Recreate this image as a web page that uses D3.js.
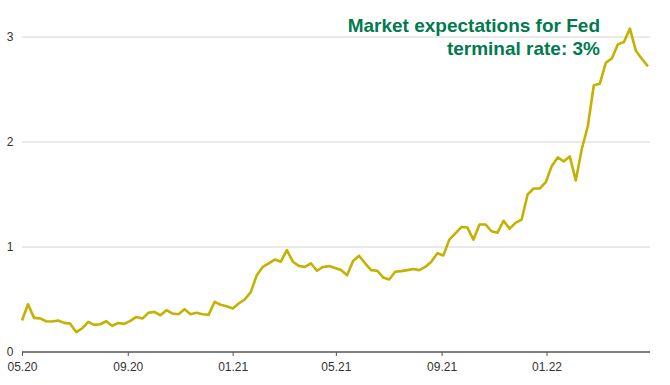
<!DOCTYPE html>
<html>
<head>
<meta charset="utf-8">
<script src="https://cdn.jsdelivr.net/npm/d3@7"></script>
<style>
  html, body { margin: 0; padding: 0; background: #fff; }
  svg { display: block; font-family: "Liberation Sans", Arial, sans-serif; }
</style>
</head>
<body>
<svg id="chart" width="670" height="385"></svg>
<script>
// ---- data ----
const startDate = "2020-05-01";          // first weekly observation
const stepDays = 7;                      // weekly observations
const values = [
  0.30, 0.455, 0.325, 0.32, 0.293, 0.29, 0.30, 0.277, 0.27, 0.19,
  0.226, 0.287, 0.258, 0.264, 0.293, 0.248, 0.277, 0.268, 0.296, 0.334,
  0.318, 0.373, 0.382, 0.35, 0.398, 0.366, 0.36, 0.408, 0.36, 0.373,
  0.36, 0.354, 0.478, 0.45, 0.436, 0.414, 0.462, 0.50, 0.57, 0.73,
  0.81, 0.845, 0.88, 0.86, 0.97, 0.86, 0.82, 0.81, 0.845, 0.774,
  0.81, 0.818, 0.80, 0.78, 0.73, 0.866, 0.917, 0.845, 0.78, 0.774,
  0.71, 0.69, 0.764, 0.77, 0.78, 0.79, 0.78, 0.81, 0.86, 0.94,
  0.92, 1.07, 1.13, 1.19, 1.185, 1.07, 1.215, 1.215, 1.15, 1.137,
  1.25, 1.175, 1.23, 1.26, 1.50, 1.557, 1.557, 1.615, 1.77, 1.853,
  1.815, 1.863, 1.634, 1.933, 2.15, 2.54, 2.555, 2.755, 2.796, 2.93,
  2.952, 3.08, 2.866, 2.79, 2.72
];
const xTickDates = ["2020-05-01", "2020-09-01", "2021-01-01", "2021-05-01", "2021-09-01", "2022-01-01"];
const xTickLabels = ["05.20", "09.20", "01.21", "05.21", "09.21", "01.22"];
const yTicks = [0, 1, 2, 3];
const titleLines = ["Market expectations for Fed", "terminal rate: 3%"];

// ---- build ----
const parse = d3.utcParse("%Y-%m-%d");
const t0 = parse(startDate);
const data = values.map((v, i) => ({ date: d3.utcDay.offset(t0, i * stepDays), value: v }));

const svg = d3.select("#chart");
const mLeft = 22, mRight = 648, mTop = 37, mBottom = 352;

const x = d3.scaleUtc()
  .domain([t0, data[data.length - 1].date])
  .range([mLeft, mRight]);
const y = d3.scaleLinear().domain([0, 3]).range([mBottom, mTop]);

// gridlines
svg.append("g")
  .selectAll("line")
  .data(yTicks.filter(d => d > 0))
  .join("line")
  .attr("x1", mLeft).attr("x2", 650)
  .attr("y1", d => y(d)).attr("y2", d => y(d))
  .attr("stroke", "#d4d4d4").attr("stroke-width", 1);

// y labels
svg.append("g")
  .selectAll("text")
  .data(yTicks)
  .join("text")
  .attr("x", 10).attr("y", d => y(d))
  .attr("dy", "0.35em")
  .attr("text-anchor", "middle")
  .attr("font-size", 12)
  .attr("fill", "#333")
  .text(d => d);

// x axis
const xTicks = xTickDates.map(parse);
const xAxis = d3.axisBottom(x)
  .tickValues(xTicks)
  .tickSize(4)
  .tickSizeOuter(0)
  .tickPadding(6)
  .tickFormat((d, i) => xTickLabels[i]);
const gx = svg.append("g")
  .attr("transform", `translate(0,${mBottom})`)
  .call(xAxis);
gx.select(".domain").attr("stroke", "#555").attr("stroke-width", 1.5).attr("d", `M${mLeft},0H650`);
gx.selectAll(".tick line").attr("stroke", "#555");
gx.selectAll(".tick text")
  .attr("font-family", "'Liberation Sans', Arial, sans-serif")
  .attr("font-size", 12).attr("fill", "#333");

// line
const line = d3.line()
  .x(d => x(d.date))
  .y(d => y(d.value));
svg.append("path")
  .datum(data)
  .attr("fill", "none")
  .attr("stroke", "#c4b100")
  .attr("stroke-width", 2.6)
  .attr("stroke-linejoin", "round")
  .attr("d", line);

// title
svg.append("g")
  .selectAll("text")
  .data(titleLines)
  .join("text")
  .attr("x", 600)
  .attr("y", (d, i) => 32 + i * 23)
  .attr("text-anchor", "end")
  .attr("font-size", 19)
  .attr("font-weight", "bold")
  .attr("fill", "#007a4e")
  .text(d => d);
</script>
</body>
</html>
